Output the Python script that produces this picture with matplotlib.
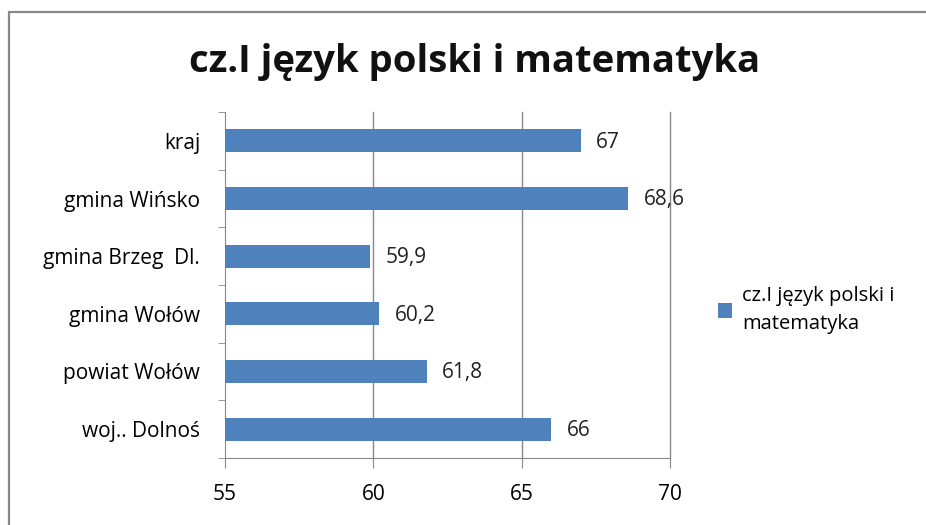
import matplotlib.pyplot as plt
from matplotlib.patches import Rectangle

# data (top to bottom as in the chart)
categories = ["kraj", "gmina Wińsko", "gmina Brzeg  Dl.", "gmina Wołów", "powiat Wołów", "woj.. Dolnoś"]
values = [67, 68.6, 59.9, 60.2, 61.8, 66]
value_labels = ["67", "68,6", "59,9", "60,2", "61,8", "66"]
x_ticks = [55, 60, 65, 70]
title = "cz.I język polski i matematyka"
series_name = "cz.I język polski i\nmatematyka"

BAR = "#4F81BD"
plt.rcParams['font.family'] = ['Open Sans', 'DejaVu Sans']

fig = plt.figure(figsize=(9.26, 5.25), dpi=100)
fig.patches.append(Rectangle((9 / 926, -0.1), 1.2, 1 - 12 / 525 + 0.1, transform=fig.transFigure,
                             fill=False, edgecolor="#888888", lw=1.6, zorder=0))

ax = fig.add_axes([225 / 926, 1 - 458 / 525, (670 - 225) / 926, (458 - 112) / 525])
pos = list(range(len(categories)))[::-1]
ax.barh(pos, [v - 55 for v in values], left=55, height=0.4, color=BAR, zorder=3)
for p, v, lab in zip(pos, values, value_labels):
    ax.annotate(lab, (v, p), xytext=(11, -1), textcoords="offset points",
                va="center", ha="left", fontsize=15, color="#222222", zorder=4)

ax.set_xlim(55, 70)
ax.set_ylim(-0.5, len(categories) - 0.5)
ax.set_xticks(x_ticks)
ax.set_xticklabels([str(t) for t in x_ticks], fontsize=15)
ax.set_yticks(pos)
ax.set_yticklabels(categories, fontsize=15)
ax.tick_params(axis="y", length=0, pad=18)
ax.set_yticks([i - 0.5 for i in range(len(categories) + 1)], minor=True)
ax.tick_params(axis="y", which="minor", length=5, color="#888888")
ax.tick_params(axis="x", length=7, color="#888888", pad=12)
for t in x_ticks[1:]:
    ax.axvline(t, color="#888888", lw=1, zorder=1, clip_on=False)
for s in ["top", "right"]:
    ax.spines[s].set_visible(False)
ax.spines["left"].set_color("#888888")
ax.spines["bottom"].set_color("#888888")

fig.text(475 / 926, 1 - 62 / 525, title, ha="center", va="center",
         fontsize=27.5, fontweight="bold", color="#111111")

ax.barh([0], [0], color=BAR, label=series_name)
leg = fig.legend(*ax.get_legend_handles_labels(), loc="center left",
                 bbox_to_anchor=(700 / 926, 1 - 310 / 525), frameon=False,
                 fontsize=14.5, handlelength=0.7, handleheight=0.7, handletextpad=0.5)
leg.get_texts()[0].set_linespacing(1.5)

fig.savefig("out.png", dpi=100)
